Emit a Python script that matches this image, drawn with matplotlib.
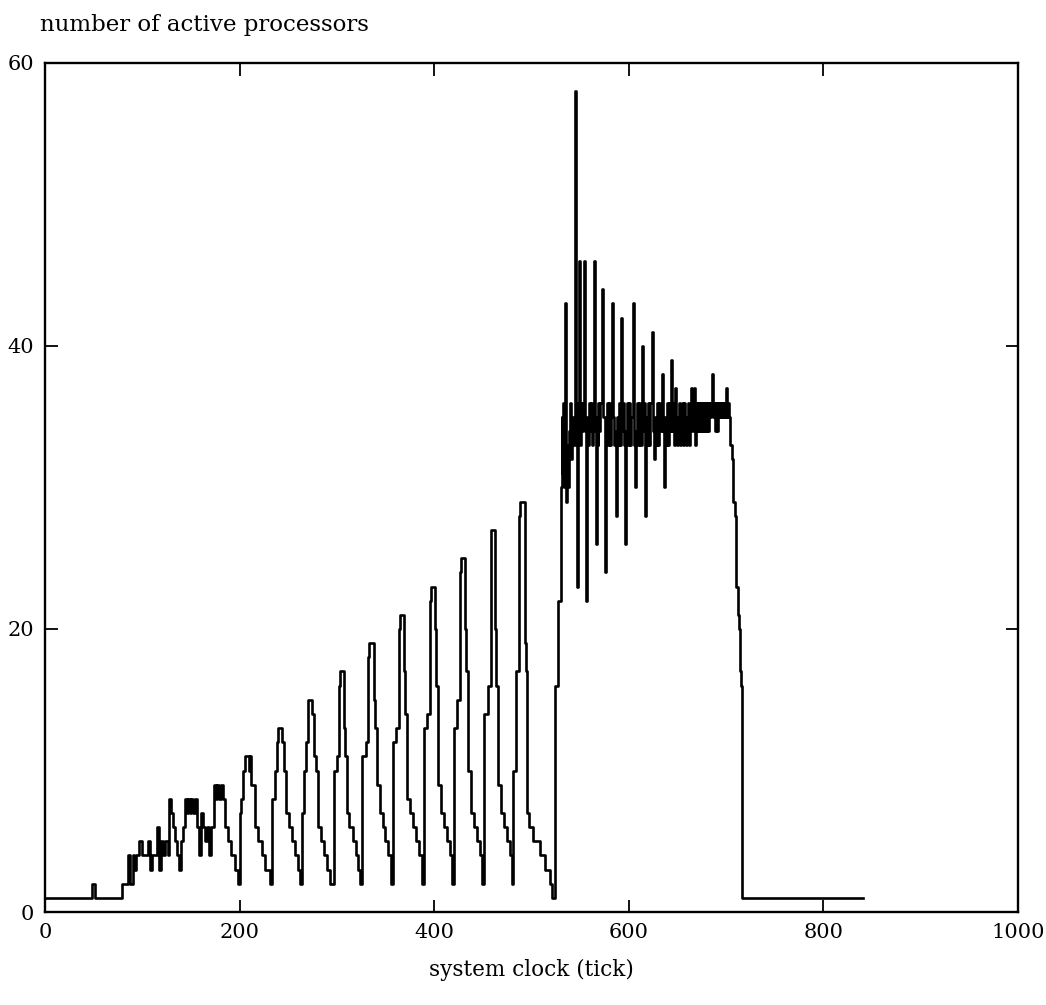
import matplotlib
matplotlib.use("Agg")
import matplotlib.pyplot as plt

# vertices of the trace (system clock tick, number of active processors)
idle_start = [(0, 1), (48, 2), (51, 1), (79, 2)]

ramp_early = [(85, 4), (87, 2), (90, 4), (92, 3), (94, 4), (97, 5), (100, 4), (103, 4),
              (106, 5), (108, 3), (110, 4), (113, 4), (115, 6), (117, 3), (119, 5), (121, 4),
              (123, 5), (126, 4), (128, 8), (130, 7), (132, 6), (134, 5), (136, 4), (138, 3),
              (140, 5), (142, 6), (144, 8), (146, 7), (147, 8), (149, 7), (150, 8), (152, 7),
              (154, 8), (156, 6), (158, 4), (160, 7), (162, 6), (165, 5), (167, 6), (169, 4),
              (171, 6), (174, 9), (176, 8), (177, 9), (179, 8), (181, 9), (183, 8), (185, 6),
              (188, 5), (191, 4), (195, 3), (198, 2)]

ramp_cycles = [(200, 7), (202, 8), (204, 10), (206, 11), (210, 10), (211, 11), (212, 9),
               (214, 9), (216, 6), (219, 5), (223, 4), (226, 3), (229, 3), (231, 2),
               (233, 8), (236, 10), (239, 12), (240, 13), (243, 13), (244, 12), (246, 10),
               (248, 7), (251, 6), (254, 5), (257, 4), (260, 3), (262, 2),
               (264, 7), (266, 10), (268, 12), (270, 15), (274, 15), (275, 14), (277, 11),
               (279, 10), (281, 6), (284, 5), (287, 4), (290, 3), (293, 2),
               (297, 10), (300, 11), (302, 16), (303, 17), (306, 17), (307, 13), (308, 11),
               (310, 7), (313, 6), (317, 5), (320, 4), (322, 3), (324, 2),
               (326, 11), (330, 12), (332, 18), (333, 19), (337, 19), (338, 15), (339, 13),
               (341, 9), (344, 7), (347, 6), (350, 5), (353, 4), (356, 2),
               (358, 12), (361, 13), (364, 20), (365, 21), (368, 21), (369, 17), (370, 14),
               (372, 8), (375, 7), (378, 6), (381, 5), (385, 4), (388, 2),
               (390, 13), (393, 14), (396, 22), (397, 23), (400, 23), (401, 20), (402, 16),
               (404, 9), (407, 7), (410, 6), (413, 5), (416, 4), (418, 2),
               (420, 13), (424, 15), (427, 24), (428, 25), (431, 25), (432, 20), (433, 17),
               (435, 10), (438, 7), (441, 6), (444, 5), (447, 4), (449, 2),
               (451, 14), (455, 16), (458, 26), (459, 27), (462, 27), (463, 20), (464, 16),
               (466, 9), (469, 7), (472, 6), (475, 5), (478, 4), (480, 2),
               (481, 10), (484, 17), (487, 28), (488, 29), (492, 29), (493, 19), (494, 17),
               (495, 7), (498, 6), (502, 5), (506, 5), (509, 4), (512, 4), (514, 3),
               (518, 3), (519, 2), (521, 1)]

burst = [(524, 16), (527, 22), (530, 30), (531, 35), (532, 31), (533, 36), (534, 30),
         (535, 43), (536, 29), (537, 33), (538, 30), (539, 34), (540, 36), (541, 32),
         (542, 35), (543, 33), (545, 58), (546, 34), (547, 23), (548, 36), (549, 46),
         (550, 33), (551, 36), (552, 34), (553, 36), (554, 46), (555, 34), (556, 22),
         (557, 35), (558, 33), (559, 36), (560, 34), (561, 36), (562, 33), (563, 35),
         (564, 46), (565, 34), (566, 26), (567, 35), (568, 33), (569, 36), (570, 34),
         (571, 36), (573, 44), (574, 35), (576, 24), (577, 34), (578, 36), (579, 33),
         (580, 36), (581, 33), (582, 35), (583, 43), (584, 35), (585, 33), (586, 34),
         (587, 28), (588, 35), (589, 33), (590, 36), (591, 33), (592, 42), (593, 34),
         (594, 36), (595, 33), (596, 26), (597, 34), (598, 36), (599, 33), (600, 36),
         (601, 33), (602, 35), (604, 43), (605, 35), (606, 33), (607, 30), (608, 34),
         (609, 36), (610, 33), (611, 36), (612, 33), (614, 40), (615, 34), (616, 36),
         (617, 28), (618, 35), (619, 33), (620, 36), (621, 33), (622, 36), (624, 41),
         (625, 34), (626, 32), (627, 35), (628, 33), (629, 36), (630, 33), (631, 36),
         (632, 34), (634, 38), (635, 34), (636, 30), (637, 35), (638, 33), (639, 36),
         (640, 33), (641, 36), (642, 34), (644, 39), (645, 34), (646, 36), (647, 33),
         (648, 37), (649, 35), (650, 33), (651, 35), (652, 36), (653, 33), (654, 35),
         (655, 36), (656, 33), (657, 36), (658, 35), (659, 33), (660, 35), (661, 36),
         (662, 33), (663, 35), (664, 37), (665, 34), (666, 36), (667, 37), (668, 33),
         (669, 36), (670, 34), (671, 36), (672, 34), (673, 36), (674, 34), (675, 36),
         (676, 34), (677, 36), (678, 34), (679, 36), (680, 34), (681, 36), (682, 34),
         (683, 36), (684, 35), (685, 36), (686, 38), (687, 35), (688, 36), (689, 34),
         (690, 36), (691, 34), (692, 36), (693, 35), (694, 36), (695, 35), (696, 36),
         (697, 35), (698, 36), (699, 35), (700, 37), (701, 35), (702, 36), (703, 35),
         (704, 33)]

drain = [(706, 32), (707, 29), (709, 28), (710, 23), (712, 21), (713, 20), (714, 17),
         (715, 16), (717, 1), (841, 1)]

xticks = [0, 200, 400, 600, 800, 1000]
yticks = [0, 20, 40, 60]

pts = idle_start + ramp_early + ramp_cycles + burst + drain
clock = [p[0] for p in pts]
active = [p[1] for p in pts]

plt.rcParams['font.family'] = ['DejaVu Serif']

fig = plt.figure(figsize=(10.46, 10.05), dpi=100)
ax = fig.add_axes([0.043, 0.0925, 0.930, 0.845])

ax.plot(clock, active, drawstyle='steps-post', color='black', lw=1.9)

ax.set_xlim(0, 1000)
ax.set_ylim(0, 60)
ax.set_xticks(xticks)
ax.set_yticks(yticks)
ax.tick_params(direction='in', top=True, right=True, length=9, width=1.3,
               labelsize=15, pad=8)
for s in ax.spines.values():
    s.set_linewidth(1.7)

ax.set_xlabel('system clock (tick)', fontsize=15.5, labelpad=12)
fig.text(40 / 1046, 1 - 25 / 1005, 'number of active processors',
         fontsize=16.5, va='center', ha='left')

fig.savefig('out.png', dpi=100)
